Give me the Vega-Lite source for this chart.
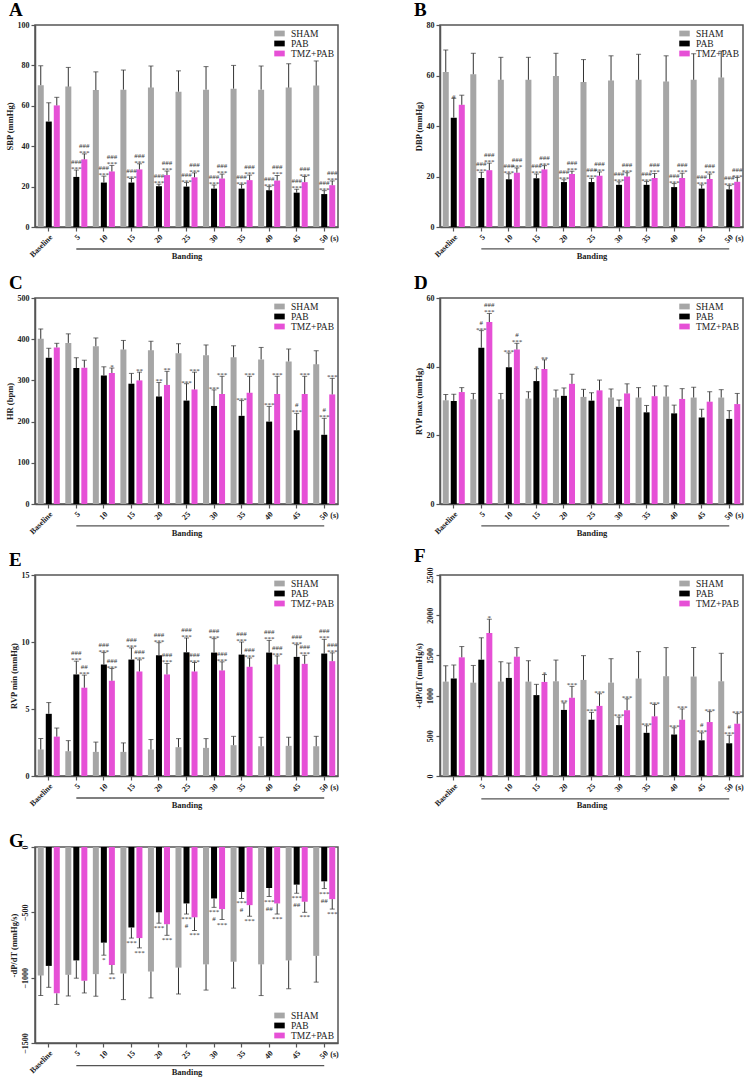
{
"$schema":"https://vega.github.io/schema/vega-lite/v6.json",
"padding":{"left":4,"top":0,"right":2,"bottom":2},
"datasets":{
"A":[
{"c":"Baseline","g":"SHAM","v":70.2,"e":79.8},{"c":"5","g":"SHAM","v":69.5,"e":79},{"c":"10","g":"SHAM","v":67.8,"e":76.8},{"c":"15","g":"SHAM","v":68,"e":77.7},{"c":"20","g":"SHAM","v":69,"e":79.7},{"c":"25","g":"SHAM","v":67,"e":77.3},{"c":"30","g":"SHAM","v":68,"e":79.4},{"c":"35","g":"SHAM","v":68.5,"e":80},{"c":"40","g":"SHAM","v":68,"e":79.7},{"c":"45","g":"SHAM","v":69,"e":80.8},{"c":"50","g":"SHAM","v":70,"e":82.2},
{"c":"Baseline","g":"PAB","v":52.2,"e":61.5},{"c":"5","g":"PAB","v":24.8,"e":28.2,"a":"***","b":"###"},{"c":"10","g":"PAB","v":22,"e":25.2,"a":"***","b":"###"},{"c":"15","g":"PAB","v":22,"e":24,"a":"***","b":"###"},{"c":"20","g":"PAB","v":20.2,"e":21.2,"a":"***","b":"###"},{"c":"25","g":"PAB","v":20,"e":22,"a":"***","b":"###"},{"c":"30","g":"PAB","v":19,"e":20.8,"a":"***","b":"###"},{"c":"35","g":"PAB","v":19,"e":21,"a":"***","b":"###"},{"c":"40","g":"PAB","v":18.2,"e":20,"a":"***","b":"###"},{"c":"45","g":"PAB","v":17,"e":18.7,"a":"***","b":"###"},{"c":"50","g":"PAB","v":16.3,"e":18,"a":"***","b":"###"},
{"c":"Baseline","g":"TMZ+PAB","v":60.2,"e":64.2},{"c":"5","g":"TMZ+PAB","v":33.5,"e":36.2,"a":"***","b":"###"},{"c":"10","g":"TMZ+PAB","v":27.5,"e":30.5,"a":"***","b":"###"},{"c":"15","g":"TMZ+PAB","v":28.5,"e":31.3,"a":"***","b":"###"},{"c":"20","g":"TMZ+PAB","v":25.7,"e":27.7,"a":"***","b":"###"},{"c":"25","g":"TMZ+PAB","v":24.6,"e":26.8,"a":"***","b":"###"},{"c":"30","g":"TMZ+PAB","v":24,"e":26.2,"a":"***","b":"###"},{"c":"35","g":"TMZ+PAB","v":23.2,"e":25.7,"a":"***","b":"###"},{"c":"40","g":"TMZ+PAB","v":23,"e":25.5,"a":"***","b":"###"},{"c":"45","g":"TMZ+PAB","v":22.2,"e":25,"a":"***","b":"###"},{"c":"50","g":"TMZ+PAB","v":20.7,"e":22.8,"a":"***","b":"###"}
],
"B":[
{"c":"Baseline","g":"SHAM","v":61.4,"e":70.1},{"c":"5","g":"SHAM","v":60.5,"e":68.8},{"c":"10","g":"SHAM","v":58.3,"e":67.2},{"c":"15","g":"SHAM","v":58.3,"e":67.2},{"c":"20","g":"SHAM","v":59.8,"e":68.8},{"c":"25","g":"SHAM","v":57.4,"e":66.3},{"c":"30","g":"SHAM","v":58,"e":67.8},{"c":"35","g":"SHAM","v":58.3,"e":68.4},{"c":"40","g":"SHAM","v":57.6,"e":67.8},{"c":"45","g":"SHAM","v":58.3,"e":68.6},{"c":"50","g":"SHAM","v":59.2,"e":69.6},
{"c":"Baseline","g":"PAB","v":43.3,"e":51,"a":"#"},{"c":"5","g":"PAB","v":19.4,"e":21.7,"a":"***","b":"###"},{"c":"10","g":"PAB","v":18.9,"e":21.1,"a":"***","b":"###"},{"c":"15","g":"PAB","v":19.3,"e":21,"a":"***","b":"###"},{"c":"20","g":"PAB","v":17.8,"e":18.7,"a":"***","b":"###"},{"c":"25","g":"PAB","v":17.8,"e":19.3,"a":"***","b":"###"},{"c":"30","g":"PAB","v":16.7,"e":17.9,"a":"***","b":"###"},{"c":"35","g":"PAB","v":16.7,"e":18,"a":"***","b":"###"},{"c":"40","g":"PAB","v":15.8,"e":17.2,"a":"***","b":"###"},{"c":"45","g":"PAB","v":15.2,"e":16.7,"a":"***","b":"###"},{"c":"50","g":"PAB","v":14.9,"e":16.4,"a":"***","b":"###"},
{"c":"Baseline","g":"TMZ+PAB","v":48.4,"e":52.2},{"c":"5","g":"TMZ+PAB","v":22.5,"e":25.3,"a":"***","b":"###"},{"c":"10","g":"TMZ+PAB","v":21.5,"e":23.4,"a":"***","b":"###"},{"c":"15","g":"TMZ+PAB","v":22.8,"e":24.3,"a":"***","b":"###"},{"c":"20","g":"TMZ+PAB","v":21,"e":22.1,"a":"***","b":"###"},{"c":"25","g":"TMZ+PAB","v":20.3,"e":21.8,"a":"***","b":"###"},{"c":"30","g":"TMZ+PAB","v":20,"e":21.5,"a":"***","b":"###"},{"c":"35","g":"TMZ+PAB","v":19.4,"e":21.2,"a":"***","b":"###"},{"c":"40","g":"TMZ+PAB","v":19.4,"e":21.3,"a":"***","b":"###"},{"c":"45","g":"TMZ+PAB","v":19,"e":21,"a":"***","b":"###"},{"c":"50","g":"TMZ+PAB","v":17.9,"e":19.6,"a":"***","b":"###"}
],
"C":[
{"c":"Baseline","g":"SHAM","v":401,"e":425},{"c":"5","g":"SHAM","v":391,"e":413},{"c":"10","g":"SHAM","v":383,"e":403},{"c":"15","g":"SHAM","v":375,"e":397},{"c":"20","g":"SHAM","v":373,"e":395},{"c":"25","g":"SHAM","v":366,"e":389},{"c":"30","g":"SHAM","v":361,"e":386},{"c":"35","g":"SHAM","v":356,"e":384},{"c":"40","g":"SHAM","v":351,"e":380},{"c":"45","g":"SHAM","v":346,"e":376},{"c":"50","g":"SHAM","v":339,"e":372},
{"c":"Baseline","g":"PAB","v":355,"e":378},{"c":"5","g":"PAB","v":330,"e":355},{"c":"10","g":"PAB","v":312,"e":333},{"c":"15","g":"PAB","v":292,"e":317},{"c":"20","g":"PAB","v":261,"e":295,"a":"**"},{"c":"25","g":"PAB","v":251,"e":292,"a":"***"},{"c":"30","g":"PAB","v":238,"e":277,"a":"***"},{"c":"35","g":"PAB","v":214,"e":251,"a":"***"},{"c":"40","g":"PAB","v":200,"e":237,"a":"***"},{"c":"45","g":"PAB","v":179,"e":220,"a":"***","b":"#"},{"c":"50","g":"PAB","v":168,"e":208,"a":"***","b":"#"},
{"c":"Baseline","g":"TMZ+PAB","v":380,"e":390},{"c":"5","g":"TMZ+PAB","v":331,"e":349},{"c":"10","g":"TMZ+PAB","v":318,"e":330,"a":"*"},{"c":"15","g":"TMZ+PAB","v":300,"e":320,"a":"**"},{"c":"20","g":"TMZ+PAB","v":289,"e":322,"a":"**"},{"c":"25","g":"TMZ+PAB","v":278,"e":320,"a":"***"},{"c":"30","g":"TMZ+PAB","v":267,"e":310,"a":"***"},{"c":"35","g":"TMZ+PAB","v":270,"e":310,"a":"***"},{"c":"40","g":"TMZ+PAB","v":267,"e":310,"a":"***"},{"c":"45","g":"TMZ+PAB","v":267,"e":310,"a":"***"},{"c":"50","g":"TMZ+PAB","v":266,"e":305,"a":"***"}
],
"D":[
{"c":"Baseline","g":"SHAM","v":30.2,"e":31.9},{"c":"5","g":"SHAM","v":30.5,"e":32.2},{"c":"10","g":"SHAM","v":30.5,"e":32.2},{"c":"15","g":"SHAM","v":30.7,"e":32.7},{"c":"20","g":"SHAM","v":31,"e":33.2},{"c":"25","g":"SHAM","v":31.2,"e":33.4},{"c":"30","g":"SHAM","v":31,"e":33.5},{"c":"35","g":"SHAM","v":31,"e":33.9},{"c":"40","g":"SHAM","v":31.3,"e":34.4},{"c":"45","g":"SHAM","v":31,"e":34},{"c":"50","g":"SHAM","v":31,"e":33.3},
{"c":"Baseline","g":"PAB","v":30,"e":32},{"c":"5","g":"PAB","v":45.5,"e":50.5,"a":"***","b":"#"},{"c":"10","g":"PAB","v":39.8,"e":44,"a":"***"},{"c":"15","g":"PAB","v":35.8,"e":39.4,"a":"*"},{"c":"20","g":"PAB","v":31.5,"e":33.8},{"c":"25","g":"PAB","v":30.1,"e":32.4},{"c":"30","g":"PAB","v":28.3,"e":30.3},{"c":"35","g":"PAB","v":26.7,"e":28.7},{"c":"40","g":"PAB","v":26.4,"e":28.8},{"c":"45","g":"PAB","v":25.2,"e":27.6},{"c":"50","g":"PAB","v":24.8,"e":27.2},
{"c":"Baseline","g":"TMZ+PAB","v":32.6,"e":33.9},{"c":"5","g":"TMZ+PAB","v":53,"e":55.5,"a":"***","b":"###"},{"c":"10","g":"TMZ+PAB","v":45,"e":46.8,"a":"***","b":"#"},{"c":"15","g":"TMZ+PAB","v":39.3,"e":42,"a":"**"},{"c":"20","g":"TMZ+PAB","v":35,"e":37.8},{"c":"25","g":"TMZ+PAB","v":33.1,"e":36.1},{"c":"30","g":"TMZ+PAB","v":32.2,"e":35},{"c":"35","g":"TMZ+PAB","v":31.4,"e":34.4},{"c":"40","g":"TMZ+PAB","v":30.6,"e":33.6},{"c":"45","g":"TMZ+PAB","v":29.8,"e":32.7},{"c":"50","g":"TMZ+PAB","v":29.1,"e":32.2}
],
"E":[
{"c":"Baseline","g":"SHAM","v":1.98,"e":2.79},{"c":"5","g":"SHAM","v":1.85,"e":2.64},{"c":"10","g":"SHAM","v":1.8,"e":2.53},{"c":"15","g":"SHAM","v":1.8,"e":2.47},{"c":"20","g":"SHAM","v":1.98,"e":2.72},{"c":"25","g":"SHAM","v":2.15,"e":2.79},{"c":"30","g":"SHAM","v":2.1,"e":2.79},{"c":"35","g":"SHAM","v":2.3,"e":2.96},{"c":"40","g":"SHAM","v":2.22,"e":2.89},{"c":"45","g":"SHAM","v":2.25,"e":2.89},{"c":"50","g":"SHAM","v":2.22,"e":2.96},
{"c":"Baseline","g":"PAB","v":4.64,"e":5.48},{"c":"5","g":"PAB","v":7.58,"e":8.57,"a":"***","b":"###"},{"c":"10","g":"PAB","v":8.32,"e":9.21,"a":"***","b":"###"},{"c":"15","g":"PAB","v":8.69,"e":9.56,"a":"***","b":"###"},{"c":"20","g":"PAB","v":9.01,"e":9.95,"a":"***","b":"###"},{"c":"25","g":"PAB","v":9.23,"e":10.3,"a":"***","b":"###"},{"c":"30","g":"PAB","v":9.21,"e":10.25,"a":"***","b":"###"},{"c":"35","g":"PAB","v":9.06,"e":10,"a":"***","b":"###"},{"c":"40","g":"PAB","v":9.21,"e":10.12,"a":"***","b":"###"},{"c":"45","g":"PAB","v":8.89,"e":9.8,"a":"***","b":"###"},{"c":"50","g":"PAB","v":9.14,"e":10.2,"a":"***","b":"###"},
{"c":"Baseline","g":"TMZ+PAB","v":2.94,"e":3.58},{"c":"5","g":"TMZ+PAB","v":6.59,"e":7.53,"a":"***","b":"##"},{"c":"10","g":"TMZ+PAB","v":7.11,"e":8.02,"a":"***","b":"###"},{"c":"15","g":"TMZ+PAB","v":7.8,"e":8.67,"a":"***","b":"###"},{"c":"20","g":"TMZ+PAB","v":7.58,"e":8.4,"a":"***","b":"###"},{"c":"25","g":"TMZ+PAB","v":7.8,"e":8.47,"a":"***","b":"###"},{"c":"30","g":"TMZ+PAB","v":7.88,"e":8.52,"a":"***","b":"###"},{"c":"35","g":"TMZ+PAB","v":8.15,"e":8.81,"a":"***","b":"###"},{"c":"40","g":"TMZ+PAB","v":8.32,"e":8.96,"a":"***","b":"###"},{"c":"45","g":"TMZ+PAB","v":8.37,"e":9.01,"a":"***","b":"###"},{"c":"50","g":"TMZ+PAB","v":8.57,"e":9.19,"a":"***","b":"###"}
],
"F":[
{"c":"Baseline","g":"SHAM","v":1174,"e":1371},{"c":"5","g":"SHAM","v":1161,"e":1375},{"c":"10","g":"SHAM","v":1174,"e":1421},{"c":"15","g":"SHAM","v":1174,"e":1434},{"c":"20","g":"SHAM","v":1178,"e":1442},{"c":"25","g":"SHAM","v":1195,"e":1497},{"c":"30","g":"SHAM","v":1161,"e":1459},{"c":"35","g":"SHAM","v":1212,"e":1547},{"c":"40","g":"SHAM","v":1241,"e":1597},{"c":"45","g":"SHAM","v":1237,"e":1597},{"c":"50","g":"SHAM","v":1178,"e":1526},
{"c":"Baseline","g":"PAB","v":1212,"e":1380},{"c":"5","g":"PAB","v":1447,"e":1719},{"c":"10","g":"PAB","v":1220,"e":1405},{"c":"15","g":"PAB","v":1006,"e":1140},{"c":"20","g":"PAB","v":822,"e":910,"a":"**"},{"c":"25","g":"PAB","v":700,"e":792,"a":"***"},{"c":"30","g":"PAB","v":633,"e":734,"a":"***"},{"c":"35","g":"PAB","v":537,"e":625,"a":"***"},{"c":"40","g":"PAB","v":516,"e":600,"a":"***"},{"c":"45","g":"PAB","v":444,"e":537,"a":"***","b":"#"},{"c":"50","g":"PAB","v":407,"e":507,"a":"***","b":"#"},
{"c":"Baseline","g":"TMZ+PAB","v":1476,"e":1610},{"c":"5","g":"TMZ+PAB","v":1778,"e":1950,"a":"*"},{"c":"10","g":"TMZ+PAB","v":1484,"e":1597},{"c":"15","g":"TMZ+PAB","v":1170,"e":1262,"a":"*"},{"c":"20","g":"TMZ+PAB","v":973,"e":1115,"a":"***"},{"c":"25","g":"TMZ+PAB","v":872,"e":1023,"a":"***"},{"c":"30","g":"TMZ+PAB","v":818,"e":960,"a":"***"},{"c":"35","g":"TMZ+PAB","v":742,"e":889,"a":"***"},{"c":"40","g":"TMZ+PAB","v":700,"e":834,"a":"***"},{"c":"45","g":"TMZ+PAB","v":671,"e":801,"a":"***"},{"c":"50","g":"TMZ+PAB","v":650,"e":776,"a":"***"}
],
"G":[
{"c":"Baseline","g":"SHAM","v":-983,"e":-1137},{"c":"5","g":"SHAM","v":-978,"e":-1140},{"c":"10","g":"SHAM","v":-973,"e":-1142},{"c":"15","g":"SHAM","v":-968,"e":-1168},{"c":"20","g":"SHAM","v":-953,"e":-1155},{"c":"25","g":"SHAM","v":-923,"e":-1125},{"c":"30","g":"SHAM","v":-898,"e":-1095},{"c":"35","g":"SHAM","v":-878,"e":-1080},{"c":"40","g":"SHAM","v":-898,"e":-1137},{"c":"45","g":"SHAM","v":-868,"e":-1084},{"c":"50","g":"SHAM","v":-833,"e":-1034},
{"c":"Baseline","g":"PAB","v":-910,"e":-1074},{"c":"5","g":"PAB","v":-868,"e":-1004},{"c":"10","g":"PAB","v":-732,"e":-828,"a":"*"},{"c":"15","g":"PAB","v":-616,"e":-697,"a":"***"},{"c":"20","g":"PAB","v":-500,"e":-583,"a":"***"},{"c":"25","g":"PAB","v":-432,"e":-513,"a":"***","b":"#"},{"c":"30","g":"PAB","v":-394,"e":-462,"a":"***","b":"#"},{"c":"35","g":"PAB","v":-344,"e":-394,"a":"***","b":"#"},{"c":"40","g":"PAB","v":-314,"e":-379,"a":"***","b":"##"},{"c":"45","g":"PAB","v":-288,"e":-354,"a":"***","b":"##"},{"c":"50","g":"PAB","v":-263,"e":-318,"a":"***","b":"##"},
{"c":"Baseline","g":"TMZ+PAB","v":-1120,"e":-1205},{"c":"5","g":"TMZ+PAB","v":-1024,"e":-1117},{"c":"10","g":"TMZ+PAB","v":-903,"e":-971,"a":"**"},{"c":"15","g":"TMZ+PAB","v":-697,"e":-772,"a":"***"},{"c":"20","g":"TMZ+PAB","v":-591,"e":-676,"a":"***"},{"c":"25","g":"TMZ+PAB","v":-538,"e":-639,"a":"***"},{"c":"30","g":"TMZ+PAB","v":-475,"e":-555,"a":"***"},{"c":"35","g":"TMZ+PAB","v":-445,"e":-530,"a":"***"},{"c":"40","g":"TMZ+PAB","v":-432,"e":-513,"a":"***"},{"c":"45","g":"TMZ+PAB","v":-419,"e":-500,"a":"***"},{"c":"50","g":"TMZ+PAB","v":-399,"e":-475,"a":"***"}
]
},
"columns":2,
"align":"each",
"spacing":{"row":71,"column":102},
"bounds":"flush",
"resolve":{"scale":{"color":"independent"},"legend":{"color":"independent"}},
"concat":[
{"data":{"name":"A"},"width":303,"height":202,"title":{"text":"A"},
"layer":[
{"mark":{"type":"bar"},"encoding":{"x":{"field":"c","type":"nominal","scale":{"domain":["Baseline","5","10","15","20","25","30","35","40","45","50"],"paddingInner":0.2,"paddingOuter":0.1},"axis":{"title":"Banding"}},"xOffset":{"field":"g","type":"nominal","scale":{"domain":["SHAM","PAB","TMZ+PAB"],"paddingInner":0.25}},"y":{"field":"v","type":"quantitative","scale":{"domain":[0,100],"nice":false},"axis":{"title":"SBP (mmHg)","values":[0,20,40,60,80,100]}},"color":{"field":"g","type":"nominal","scale":{"domain":["SHAM","PAB","TMZ+PAB"],"range":["#a6a6a6","#000000","#e650d6"]},"legend":{"title":null,"orient":"top-right","symbolType":"M-1,-0.55H1V0.55H-1Z"}}}},
{"mark":{"type":"rule","color":"#333","strokeWidth":1},"encoding":{"x":{"field":"c","type":"nominal"},"xOffset":{"field":"g","type":"nominal"},"y":{"field":"v","type":"quantitative"},"y2":{"field":"e"}}},
{"mark":{"type":"tick","color":"#333","size":5,"thickness":1},"encoding":{"x":{"field":"c","type":"nominal"},"xOffset":{"field":"g","type":"nominal"},"y":{"field":"e","type":"quantitative"}}},
{"transform":[{"filter":"datum.a"}],"mark":{"type":"text","baseline":"alphabetic","dy":1,"fontSize":7,"color":"#333"},"encoding":{"x":{"field":"c","type":"nominal"},"xOffset":{"field":"g","type":"nominal"},"y":{"field":"e","type":"quantitative"},"text":{"field":"a"}}},
{"transform":[{"filter":"datum.b"}],"mark":{"type":"text","baseline":"alphabetic","dy":-6,"fontSize":7,"color":"#333"},"encoding":{"x":{"field":"c","type":"nominal"},"xOffset":{"field":"g","type":"nominal"},"y":{"field":"e","type":"quantitative"},"text":{"field":"b"}}},
{"data":{"values":[{}]},"mark":{"type":"rule","color":"#555","strokeWidth":1.3},"encoding":{"x":{"datum":"5"},"x2":{"datum":"50"},"y":{"datum":-10.9}}},
{"data":{"values":[{}]},"mark":{"type":"text","text":"(s)","align":"left","dx":6,"dy":12,"fontSize":8,"fontWeight":"bold","color":"#222"},"encoding":{"x":{"datum":"50"},"y":{"datum":0}}}
]},
{"data":{"name":"B"},"width":303,"height":202,"title":{"text":"B"},
"layer":[
{"mark":{"type":"bar"},"encoding":{"x":{"field":"c","type":"nominal","scale":{"domain":["Baseline","5","10","15","20","25","30","35","40","45","50"],"paddingInner":0.2,"paddingOuter":0.1},"axis":{"title":"Banding"}},"xOffset":{"field":"g","type":"nominal","scale":{"domain":["SHAM","PAB","TMZ+PAB"],"paddingInner":0.25}},"y":{"field":"v","type":"quantitative","scale":{"domain":[0,80],"nice":false},"axis":{"title":"DBP (mmHg)","values":[0,20,40,60,80]}},"color":{"field":"g","type":"nominal","scale":{"domain":["SHAM","PAB","TMZ+PAB"],"range":["#a6a6a6","#000000","#e650d6"]},"legend":{"title":null,"orient":"top-right","symbolType":"M-1,-0.55H1V0.55H-1Z"}}}},
{"mark":{"type":"rule","color":"#333","strokeWidth":1},"encoding":{"x":{"field":"c","type":"nominal"},"xOffset":{"field":"g","type":"nominal"},"y":{"field":"v","type":"quantitative"},"y2":{"field":"e"}}},
{"mark":{"type":"tick","color":"#333","size":5,"thickness":1},"encoding":{"x":{"field":"c","type":"nominal"},"xOffset":{"field":"g","type":"nominal"},"y":{"field":"e","type":"quantitative"}}},
{"transform":[{"filter":"datum.a"}],"mark":{"type":"text","baseline":"alphabetic","dy":1,"fontSize":7,"color":"#333"},"encoding":{"x":{"field":"c","type":"nominal"},"xOffset":{"field":"g","type":"nominal"},"y":{"field":"e","type":"quantitative"},"text":{"field":"a"}}},
{"transform":[{"filter":"datum.b"}],"mark":{"type":"text","baseline":"alphabetic","dy":-6,"fontSize":7,"color":"#333"},"encoding":{"x":{"field":"c","type":"nominal"},"xOffset":{"field":"g","type":"nominal"},"y":{"field":"e","type":"quantitative"},"text":{"field":"b"}}},
{"data":{"values":[{}]},"mark":{"type":"rule","color":"#555","strokeWidth":1.3},"encoding":{"x":{"datum":"5"},"x2":{"datum":"50"},"y":{"datum":-8.7}}},
{"data":{"values":[{}]},"mark":{"type":"text","text":"(s)","align":"left","dx":6,"dy":12,"fontSize":8,"fontWeight":"bold","color":"#222"},"encoding":{"x":{"datum":"50"},"y":{"datum":0}}}
]},
{"data":{"name":"C"},"width":303,"height":206,"title":{"text":"C"},
"layer":[
{"mark":{"type":"bar"},"encoding":{"x":{"field":"c","type":"nominal","scale":{"domain":["Baseline","5","10","15","20","25","30","35","40","45","50"],"paddingInner":0.2,"paddingOuter":0.1},"axis":{"title":"Banding"}},"xOffset":{"field":"g","type":"nominal","scale":{"domain":["SHAM","PAB","TMZ+PAB"],"paddingInner":0.25}},"y":{"field":"v","type":"quantitative","scale":{"domain":[0,500],"nice":false},"axis":{"title":"HR (bpm)","values":[0,100,200,300,400,500]}},"color":{"field":"g","type":"nominal","scale":{"domain":["SHAM","PAB","TMZ+PAB"],"range":["#a6a6a6","#000000","#e650d6"]},"legend":{"title":null,"orient":"top-right","symbolType":"M-1,-0.55H1V0.55H-1Z"}}}},
{"mark":{"type":"rule","color":"#333","strokeWidth":1},"encoding":{"x":{"field":"c","type":"nominal"},"xOffset":{"field":"g","type":"nominal"},"y":{"field":"v","type":"quantitative"},"y2":{"field":"e"}}},
{"mark":{"type":"tick","color":"#333","size":5,"thickness":1},"encoding":{"x":{"field":"c","type":"nominal"},"xOffset":{"field":"g","type":"nominal"},"y":{"field":"e","type":"quantitative"}}},
{"transform":[{"filter":"datum.a"}],"mark":{"type":"text","baseline":"alphabetic","dy":1,"fontSize":7,"color":"#333"},"encoding":{"x":{"field":"c","type":"nominal"},"xOffset":{"field":"g","type":"nominal"},"y":{"field":"e","type":"quantitative"},"text":{"field":"a"}}},
{"transform":[{"filter":"datum.b"}],"mark":{"type":"text","baseline":"alphabetic","dy":-6,"fontSize":7,"color":"#333"},"encoding":{"x":{"field":"c","type":"nominal"},"xOffset":{"field":"g","type":"nominal"},"y":{"field":"e","type":"quantitative"},"text":{"field":"b"}}},
{"data":{"values":[{}]},"mark":{"type":"rule","color":"#555","strokeWidth":1.3},"encoding":{"x":{"datum":"5"},"x2":{"datum":"50"},"y":{"datum":-53}}},
{"data":{"values":[{}]},"mark":{"type":"text","text":"(s)","align":"left","dx":6,"dy":12,"fontSize":8,"fontWeight":"bold","color":"#222"},"encoding":{"x":{"datum":"50"},"y":{"datum":0}}}
]},
{"data":{"name":"D"},"width":303,"height":206,"title":{"text":"D"},
"layer":[
{"mark":{"type":"bar"},"encoding":{"x":{"field":"c","type":"nominal","scale":{"domain":["Baseline","5","10","15","20","25","30","35","40","45","50"],"paddingInner":0.2,"paddingOuter":0.1},"axis":{"title":"Banding"}},"xOffset":{"field":"g","type":"nominal","scale":{"domain":["SHAM","PAB","TMZ+PAB"],"paddingInner":0.25}},"y":{"field":"v","type":"quantitative","scale":{"domain":[0,60],"nice":false},"axis":{"title":"RVP max (mmHg)","values":[0,20,40,60]}},"color":{"field":"g","type":"nominal","scale":{"domain":["SHAM","PAB","TMZ+PAB"],"range":["#a6a6a6","#000000","#e650d6"]},"legend":{"title":null,"orient":"top-right","symbolType":"M-1,-0.55H1V0.55H-1Z"}}}},
{"mark":{"type":"rule","color":"#333","strokeWidth":1},"encoding":{"x":{"field":"c","type":"nominal"},"xOffset":{"field":"g","type":"nominal"},"y":{"field":"v","type":"quantitative"},"y2":{"field":"e"}}},
{"mark":{"type":"tick","color":"#333","size":5,"thickness":1},"encoding":{"x":{"field":"c","type":"nominal"},"xOffset":{"field":"g","type":"nominal"},"y":{"field":"e","type":"quantitative"}}},
{"transform":[{"filter":"datum.a"}],"mark":{"type":"text","baseline":"alphabetic","dy":1,"fontSize":7,"color":"#333"},"encoding":{"x":{"field":"c","type":"nominal"},"xOffset":{"field":"g","type":"nominal"},"y":{"field":"e","type":"quantitative"},"text":{"field":"a"}}},
{"transform":[{"filter":"datum.b"}],"mark":{"type":"text","baseline":"alphabetic","dy":-6,"fontSize":7,"color":"#333"},"encoding":{"x":{"field":"c","type":"nominal"},"xOffset":{"field":"g","type":"nominal"},"y":{"field":"e","type":"quantitative"},"text":{"field":"b"}}},
{"data":{"values":[{}]},"mark":{"type":"rule","color":"#555","strokeWidth":1.3},"encoding":{"x":{"datum":"5"},"x2":{"datum":"50"},"y":{"datum":-6.4}}},
{"data":{"values":[{}]},"mark":{"type":"text","text":"(s)","align":"left","dx":6,"dy":12,"fontSize":8,"fontWeight":"bold","color":"#222"},"encoding":{"x":{"datum":"50"},"y":{"datum":0}}}
]},
{"data":{"name":"E"},"width":303,"height":201,"title":{"text":"E"},
"layer":[
{"mark":{"type":"bar"},"encoding":{"x":{"field":"c","type":"nominal","scale":{"domain":["Baseline","5","10","15","20","25","30","35","40","45","50"],"paddingInner":0.2,"paddingOuter":0.1},"axis":{"title":"Banding"}},"xOffset":{"field":"g","type":"nominal","scale":{"domain":["SHAM","PAB","TMZ+PAB"],"paddingInner":0.25}},"y":{"field":"v","type":"quantitative","scale":{"domain":[0,15],"nice":false},"axis":{"title":"RVP min (mmHg)","values":[0,5,10,15]}},"color":{"field":"g","type":"nominal","scale":{"domain":["SHAM","PAB","TMZ+PAB"],"range":["#a6a6a6","#000000","#e650d6"]},"legend":{"title":null,"orient":"top-right","symbolType":"M-1,-0.55H1V0.55H-1Z"}}}},
{"mark":{"type":"rule","color":"#333","strokeWidth":1},"encoding":{"x":{"field":"c","type":"nominal"},"xOffset":{"field":"g","type":"nominal"},"y":{"field":"v","type":"quantitative"},"y2":{"field":"e"}}},
{"mark":{"type":"tick","color":"#333","size":5,"thickness":1},"encoding":{"x":{"field":"c","type":"nominal"},"xOffset":{"field":"g","type":"nominal"},"y":{"field":"e","type":"quantitative"}}},
{"transform":[{"filter":"datum.a"}],"mark":{"type":"text","baseline":"alphabetic","dy":1,"fontSize":7,"color":"#333"},"encoding":{"x":{"field":"c","type":"nominal"},"xOffset":{"field":"g","type":"nominal"},"y":{"field":"e","type":"quantitative"},"text":{"field":"a"}}},
{"transform":[{"filter":"datum.b"}],"mark":{"type":"text","baseline":"alphabetic","dy":-6,"fontSize":7,"color":"#333"},"encoding":{"x":{"field":"c","type":"nominal"},"xOffset":{"field":"g","type":"nominal"},"y":{"field":"e","type":"quantitative"},"text":{"field":"b"}}},
{"data":{"values":[{}]},"mark":{"type":"rule","color":"#555","strokeWidth":1.3},"encoding":{"x":{"datum":"5"},"x2":{"datum":"50"},"y":{"datum":-1.64}}},
{"data":{"values":[{}]},"mark":{"type":"text","text":"(s)","align":"left","dx":6,"dy":12,"fontSize":8,"fontWeight":"bold","color":"#222"},"encoding":{"x":{"datum":"50"},"y":{"datum":0}}}
]},
{"data":{"name":"F"},"width":303,"height":201,"title":{"text":"F"},
"layer":[
{"mark":{"type":"bar"},"encoding":{"x":{"field":"c","type":"nominal","scale":{"domain":["Baseline","5","10","15","20","25","30","35","40","45","50"],"paddingInner":0.2,"paddingOuter":0.1},"axis":{"title":"Banding"}},"xOffset":{"field":"g","type":"nominal","scale":{"domain":["SHAM","PAB","TMZ+PAB"],"paddingInner":0.25}},"y":{"field":"v","type":"quantitative","scale":{"domain":[0,2500],"nice":false},"axis":{"title":"+dP/dT (mmHg/s)","values":[0,500,1000,1500,2000,2500],"labelAngle":-90,"format":"d"}},"color":{"field":"g","type":"nominal","scale":{"domain":["SHAM","PAB","TMZ+PAB"],"range":["#a6a6a6","#000000","#e650d6"]},"legend":{"title":null,"orient":"top-right","symbolType":"M-1,-0.55H1V0.55H-1Z"}}}},
{"mark":{"type":"rule","color":"#333","strokeWidth":1},"encoding":{"x":{"field":"c","type":"nominal"},"xOffset":{"field":"g","type":"nominal"},"y":{"field":"v","type":"quantitative"},"y2":{"field":"e"}}},
{"mark":{"type":"tick","color":"#333","size":5,"thickness":1},"encoding":{"x":{"field":"c","type":"nominal"},"xOffset":{"field":"g","type":"nominal"},"y":{"field":"e","type":"quantitative"}}},
{"transform":[{"filter":"datum.a"}],"mark":{"type":"text","baseline":"alphabetic","dy":1,"fontSize":7,"color":"#333"},"encoding":{"x":{"field":"c","type":"nominal"},"xOffset":{"field":"g","type":"nominal"},"y":{"field":"e","type":"quantitative"},"text":{"field":"a"}}},
{"transform":[{"filter":"datum.b"}],"mark":{"type":"text","baseline":"alphabetic","dy":-6,"fontSize":7,"color":"#333"},"encoding":{"x":{"field":"c","type":"nominal"},"xOffset":{"field":"g","type":"nominal"},"y":{"field":"e","type":"quantitative"},"text":{"field":"b"}}},
{"data":{"values":[{}]},"mark":{"type":"rule","color":"#555","strokeWidth":1.3},"encoding":{"x":{"datum":"5"},"x2":{"datum":"50"},"y":{"datum":-285}}},
{"data":{"values":[{}]},"mark":{"type":"text","text":"(s)","align":"left","dx":6,"dy":12,"fontSize":8,"fontWeight":"bold","color":"#222"},"encoding":{"x":{"datum":"50"},"y":{"datum":0}}}
]},
{"data":{"name":"G"},"width":303,"height":196,"title":{"text":"G","dy":10},
"layer":[
{"mark":{"type":"bar"},"encoding":{"x":{"field":"c","type":"nominal","scale":{"domain":["Baseline","5","10","15","20","25","30","35","40","45","50"],"paddingInner":0.2,"paddingOuter":0.1},"axis":{"title":"Banding"}},"xOffset":{"field":"g","type":"nominal","scale":{"domain":["SHAM","PAB","TMZ+PAB"],"paddingInner":0.25}},"y":{"field":"v","type":"quantitative","scale":{"domain":[-1500,0],"nice":false},"axis":{"title":"-dP/dT (mmHg/s)","values":[-1500,-1000,-500,0],"labelAngle":-90,"format":"d"}},"color":{"field":"g","type":"nominal","scale":{"domain":["SHAM","PAB","TMZ+PAB"],"range":["#a6a6a6","#000000","#e650d6"]},"legend":{"title":null,"orient":"bottom-right","symbolType":"M-1,-0.55H1V0.55H-1Z"}}}},
{"mark":{"type":"rule","color":"#333","strokeWidth":1},"encoding":{"x":{"field":"c","type":"nominal"},"xOffset":{"field":"g","type":"nominal"},"y":{"field":"v","type":"quantitative"},"y2":{"field":"e"}}},
{"mark":{"type":"tick","color":"#333","size":5,"thickness":1},"encoding":{"x":{"field":"c","type":"nominal"},"xOffset":{"field":"g","type":"nominal"},"y":{"field":"e","type":"quantitative"}}},
{"transform":[{"filter":"datum.a"}],"mark":{"type":"text","baseline":"top","dy":1,"fontSize":7,"color":"#333"},"encoding":{"x":{"field":"c","type":"nominal"},"xOffset":{"field":"g","type":"nominal"},"y":{"field":"e","type":"quantitative"},"text":{"field":"a"}}},
{"transform":[{"filter":"datum.b"}],"mark":{"type":"text","baseline":"top","dy":8,"fontSize":7,"color":"#333"},"encoding":{"x":{"field":"c","type":"nominal"},"xOffset":{"field":"g","type":"nominal"},"y":{"field":"e","type":"quantitative"},"text":{"field":"b"}}},
{"data":{"values":[{}]},"mark":{"type":"rule","color":"#555","strokeWidth":1.3},"encoding":{"x":{"datum":"5"},"x2":{"datum":"50"},"y":{"datum":-1673}}},
{"data":{"values":[{}]},"mark":{"type":"text","text":"(s)","align":"left","dx":6,"dy":12,"fontSize":8,"fontWeight":"bold","color":"#222"},"encoding":{"x":{"datum":"50"},"y":{"datum":-1500}}}
]}
],
"config":{
"font":"Liberation Serif",
"view":{"stroke":"#555","strokeWidth":1.5},
"title":{"font":"Liberation Serif","fontSize":19,"fontWeight":"bold","anchor":"start","frame":"group","dx":-26,"dy":3,"offset":0,"color":"#000"},
"axis":{"labelFont":"Liberation Serif","labelFontWeight":"bold","labelFontSize":8,"labelColor":"#222","titleFont":"Liberation Serif","titleFontWeight":"bold","titleFontSize":8.5,"titleColor":"#222","domainColor":"#555","domainWidth":1.5,"tickColor":"#555","tickWidth":1.2,"tickSize":4,"grid":false,"labelPadding":2,"titlePadding":3},
"axisX":{"labelAngle":-45,"titlePadding":-7},
"legend":{"labelFont":"Liberation Serif","labelFontSize":9.5,"labelColor":"#222","symbolSize":110,"symbolStrokeWidth":0,"rowPadding":0,"offset":3,"padding":0,"labelOffset":6}
}
}
